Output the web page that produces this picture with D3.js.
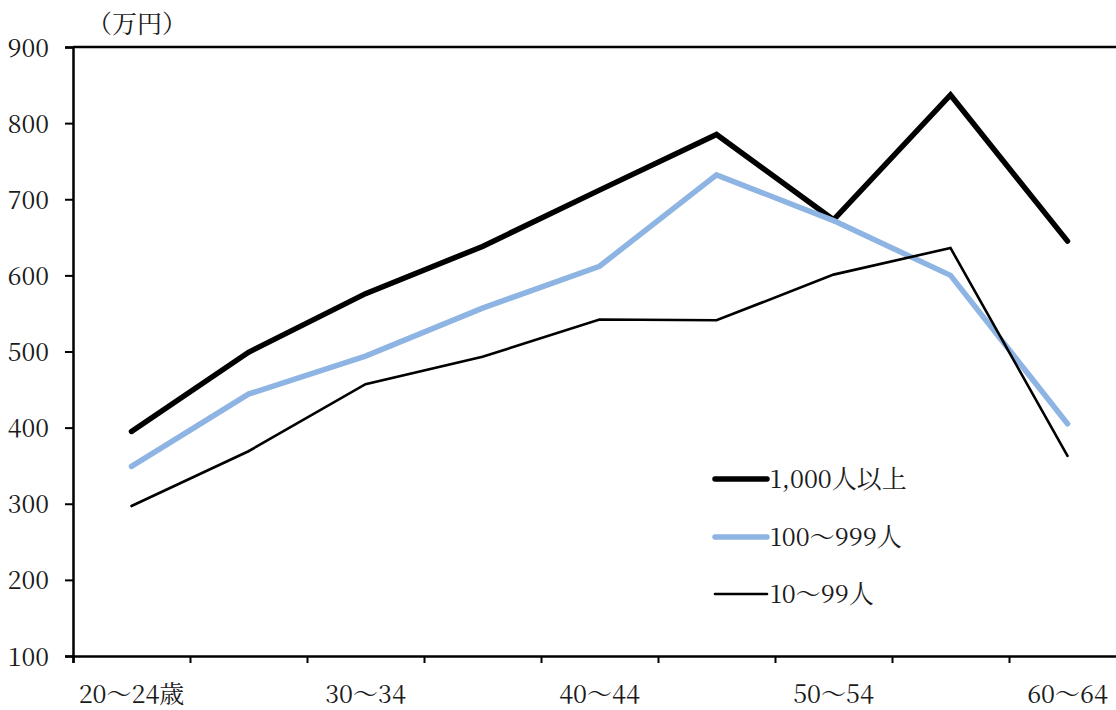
<!DOCTYPE html>
<html>
<head>
<meta charset="utf-8">
<script src="https://cdn.jsdelivr.net/npm/d3@7"></script>
<style>
  html, body { margin: 0; padding: 0; background: #fff; overflow: hidden; }
  svg { display: block; }
</style>
</head>
<body>
<svg id="chart" width="1116" height="710"></svg>
<script>
const categories = ["20～24歳", "25～29", "30～34", "35～39", "40～44", "45～49", "50～54", "55～59", "60～64"];
const shownLabels = ["20～24歳", "30～34", "40～44", "50～54", "60～64"];
const seriesNames = ["1,000人以上", "100～999人", "10～99人"];
const large = [395, 499, 576, 638, 712, 785, 673, 837, 645];
const medium = [349, 444, 494, 557, 612, 732, 672, 600, 405];
const small = [297, 369, 457, 493, 542, 541, 601, 636, 363];
const yTicks = [100, 200, 300, 400, 500, 600, 700, 800, 900];
const yUnit = "（万円）";

const FONT = "'Noto Serif CJK JP', 'Liberation Serif', serif";
const FS = "25px";
const TXT = "#1a1a1a";

const series = [
  { name: seriesNames[0], values: large, color: "#000000", width: 5.5 },
  { name: seriesNames[1], values: medium, color: "#8db4e2", width: 5.5 },
  { name: seriesNames[2], values: small, color: "#000000", width: 2.6 }
];

const svg = d3.select("#chart");
const mLeft = 73, mRight = 1126, mTop = 47, mBottom = 656;

const x = d3.scalePoint().domain(categories).range([mLeft, mRight]).padding(0.5);
const y = d3.scaleLinear().domain([100, 900]).range([mBottom, mTop]);
const step = x.step();

// top frame line
svg.append("line")
  .attr("x1", mLeft).attr("x2", mRight)
  .attr("y1", y(900)).attr("y2", y(900))
  .attr("stroke", "#000").attr("stroke-width", 2.5);

// Y axis
const yAxis = d3.axisLeft(y).tickValues(yTicks).tickSize(8).tickPadding(16).tickFormat(d3.format("d"));
const gy = svg.append("g").attr("transform", `translate(${mLeft},0)`).call(yAxis);
gy.select(".domain").attr("stroke", "#000").attr("stroke-width", 2.5);
gy.selectAll(".tick line").attr("stroke", "#000").attr("stroke-width", 2);
gy.selectAll(".tick text").style("font-family", FONT).style("font-size", FS)
  .attr("fill", TXT).attr("dy", "0.36em");

// X axis: boundary ticks between categories
const boundaries = d3.range(categories.length + 1).map(i => mLeft + i * step);
const xb = d3.scaleLinear().domain([mLeft, mRight]).range([mLeft, mRight]);
const xAxis = d3.axisBottom(xb).tickValues(boundaries).tickSize(7).tickFormat("");
const gx = svg.append("g").attr("transform", `translate(0,${mBottom})`).call(xAxis);
gx.select(".domain").attr("stroke", "#000").attr("stroke-width", 2.5);
gx.selectAll(".tick line").attr("stroke", "#000").attr("stroke-width", 2);

// X labels
svg.append("g").selectAll("text").data(shownLabels).join("text")
  .attr("x", d => x(d))
  .attr("y", 703)
  .attr("text-anchor", "middle")
  .style("font-family", FONT).style("font-size", FS).attr("fill", TXT)
  .text(d => d);

// unit label
svg.append("text").attr("x", 137).attr("y", 33).attr("text-anchor", "middle")
  .style("font-family", FONT).style("font-size", FS).attr("fill", TXT).text(yUnit);

// lines
const line = d3.line().x((d, i) => x(categories[i])).y(d => y(d));
svg.append("g").selectAll("path").data(series).join("path")
  .attr("d", d => line(d.values))
  .attr("fill", "none")
  .attr("stroke", d => d.color)
  .attr("stroke-width", d => d.width)
  .attr("stroke-linejoin", "miter")
  .attr("stroke-linecap", "round");

// legend
const legendY = [479, 537, 594];
const lg = svg.append("g").selectAll("g").data(series).join("g")
  .attr("transform", (d, i) => `translate(0,${legendY[i]})`);
lg.append("line").attr("x1", 715).attr("x2", 767).attr("y1", 0).attr("y2", 0)
  .attr("stroke", d => d.color).attr("stroke-width", d => d.width).attr("stroke-linecap", "round");
lg.append("text").attr("x", 770).attr("y", 0).attr("dy", "0.36em")
  .style("font-family", FONT).style("font-size", FS).attr("fill", TXT).text(d => d.name);
</script>
</body>
</html>
